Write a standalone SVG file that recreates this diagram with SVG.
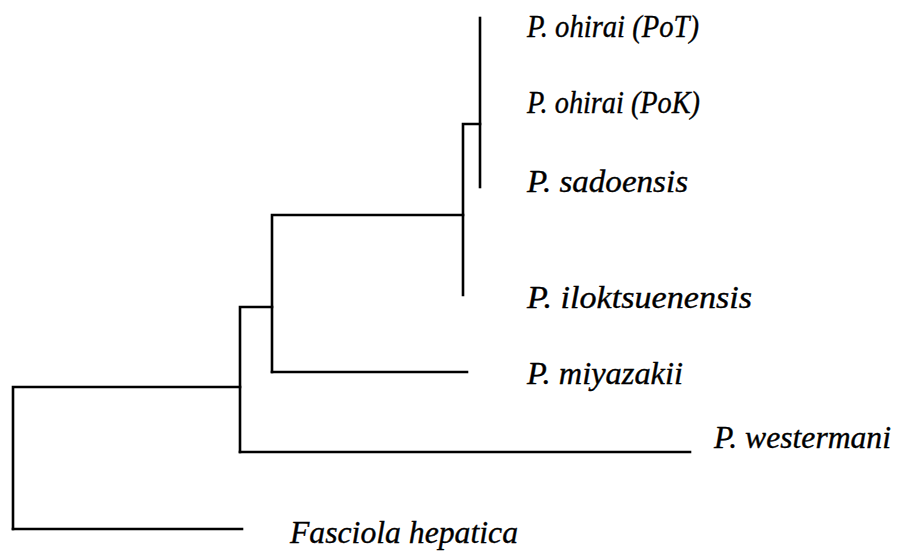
<svg xmlns="http://www.w3.org/2000/svg" width="899" height="552" viewBox="0 0 899 552">
  <style>
    .branch { fill: none; stroke: #000; stroke-width: 2.6; stroke-linecap: square; stroke-linejoin: miter; }
    .taxon { font-family: "Liberation Serif", "Times New Roman", serif; font-style: italic; font-size: 31px; fill: #000; stroke: #000; stroke-width: 0.35; }
  </style>
  <rect width="899" height="552" fill="#fff"/>

  <!-- tree branches -->
  <g id="connectors">
    <path class="branch" d="M480,18 V187"/>
    <path class="branch" d="M463,295 V124 H480"/>
    <path class="branch" d="M272,372 V215 H463"/>
    <path class="branch" d="M272,372 H467"/>
    <path class="branch" d="M240,452 V307 H272"/>
    <path class="branch" d="M240,452 H690"/>
    <path class="branch" d="M13,529 V387 H240"/>
    <path class="branch" d="M13,529 H242"/>
  </g>

  <!-- taxa -->
  <g id="p-ohirai-pot"><text class="taxon" x="527" y="37" textLength="172" lengthAdjust="spacingAndGlyphs">P. ohirai (PoT)</text></g>
  <g id="p-ohirai-pok"><text class="taxon" x="527" y="113" textLength="173" lengthAdjust="spacingAndGlyphs">P. ohirai (PoK)</text></g>
  <g id="p-sadoensis"><text class="taxon" x="527" y="192" textLength="161" lengthAdjust="spacingAndGlyphs">P. sadoensis</text></g>
  <g id="p-iloktsuenensis"><text class="taxon" x="527" y="308" textLength="225" lengthAdjust="spacingAndGlyphs">P. iloktsuenensis</text></g>
  <g id="p-miyazakii"><text class="taxon" x="527" y="384" textLength="156" lengthAdjust="spacingAndGlyphs">P. miyazakii</text></g>
  <g id="p-westermani"><text class="taxon" x="714" y="448" textLength="177" lengthAdjust="spacingAndGlyphs">P. westermani</text></g>
  <g id="fasciola-hepatica"><text class="taxon" x="290" y="543" textLength="228" lengthAdjust="spacingAndGlyphs">Fasciola hepatica</text></g>
</svg>
